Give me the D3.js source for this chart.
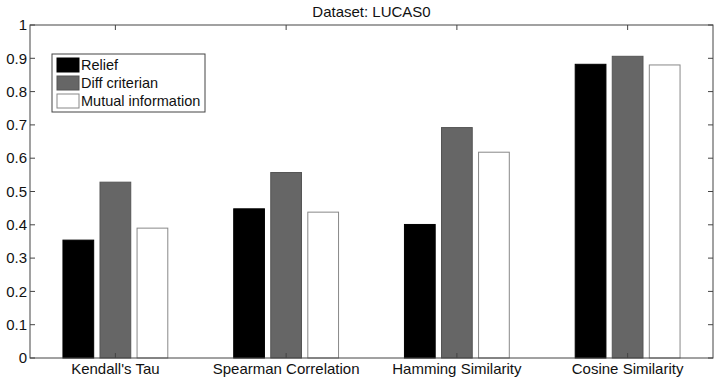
<!DOCTYPE html>
<html><head><meta charset="utf-8">
<script src="https://cdn.jsdelivr.net/npm/d3@7"></script>
<style>body{margin:0;background:#fff}svg text{font-family:"Liberation Sans",Arial,sans-serif}</style>
</head><body><svg id="c" width="720" height="390"></svg>
<script>
const categories = ["Kendall's Tau","Spearman Correlation","Hamming Similarity","Cosine Similarity"];
const seriesNames = ["Relief","Diff criterian","Mutual information"];
const relief = [0.354, 0.448, 0.401, 0.882];
const diffCriterian = [0.528, 0.557, 0.692, 0.906];
const mutualInfo = [0.390, 0.438, 0.618, 0.880];
const yTicks = [0,0.1,0.2,0.3,0.4,0.5,0.6,0.7,0.8,0.9,1];
const series = [relief, diffCriterian, mutualInfo];
const fills = ["#000000","#666666","#ffffff"];
const strokes = ["#000000","#555555","#888888"];

const svg = d3.select("#c");
const L=30, R=713, T=25, B=358;
const x = d3.scaleLinear().domain([0.5,4.5]).range([L,R]);
const y = d3.scaleLinear().domain([0,1]).range([B,T]);
const step = 0.217, bw = 0.18;
const FS = 15;

series.forEach((s,si)=>{
  svg.append("g").selectAll("rect").data(s).join("rect")
    .attr("x",(d,i)=>x(i+1+(si-1)*step-bw/2))
    .attr("width",x(1+bw)-x(1))
    .attr("y",d=>y(d))
    .attr("height",d=>y(0)-y(d))
    .attr("fill",fills[si]).attr("stroke",strokes[si]).attr("stroke-width",1);
});

const ax = svg.append("g").attr("font-size",FS).attr("fill","#111");
ax.append("rect").attr("x",L).attr("y",T).attr("width",R-L).attr("height",B-T)
  .attr("fill","none").attr("stroke","#444").attr("stroke-width",1);
yTicks.forEach(t=>{
  ax.append("line").attr("x1",L).attr("x2",L+5).attr("y1",y(t)).attr("y2",y(t)).attr("stroke","#444");
  ax.append("line").attr("x1",R).attr("x2",R-5).attr("y1",y(t)).attr("y2",y(t)).attr("stroke","#444");
  ax.append("text").attr("x",L-3).attr("y",y(t)).attr("dy","0.35em").attr("text-anchor","end")
    .text(d3.format("~g")(t));
});
categories.forEach((c,i)=>{
  ax.append("line").attr("x1",x(i+1)).attr("x2",x(i+1)).attr("y1",B).attr("y2",B-5).attr("stroke","#444");
  ax.append("line").attr("x1",x(i+1)).attr("x2",x(i+1)).attr("y1",T).attr("y2",T+5).attr("stroke","#444");
  ax.append("text").attr("x",x(i+1)).attr("y",B+16).attr("text-anchor","middle").text(c);
});
svg.append("text").attr("x",(L+R)/2).attr("y",17).attr("text-anchor","middle")
  .attr("font-size",FS).attr("fill","#111").text("Dataset: LUCAS0");

const lg = svg.append("g");
lg.append("rect").attr("x",52).attr("y",54).attr("width",153).attr("height",58)
  .attr("fill","#fff").attr("stroke","#444");
seriesNames.forEach((n,i)=>{
  lg.append("rect").attr("x",57).attr("y",58+i*18).attr("width",22).attr("height",14)
    .attr("fill",fills[i]).attr("stroke",strokes[i]);
  lg.append("text").attr("x",81).attr("y",65+i*18).attr("dy","0.35em").attr("font-size",14.5)
    .attr("fill","#111").text(n);
});
</script></body></html>
